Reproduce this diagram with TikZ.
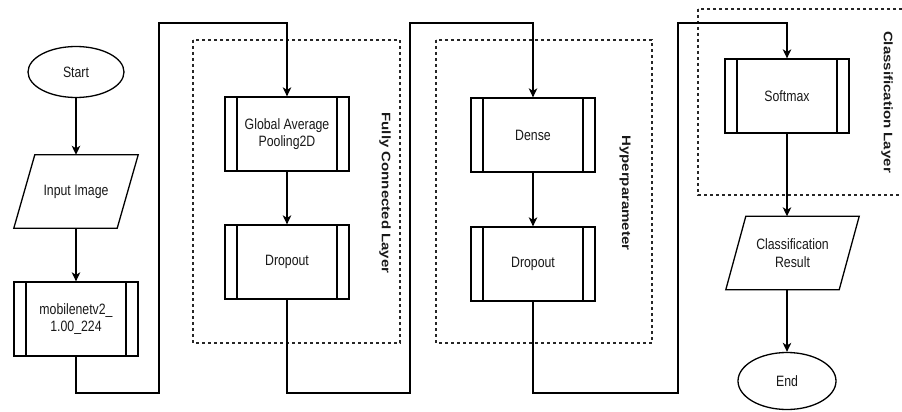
\documentclass[tikz,border=0pt]{standalone}
\usepackage{fontspec}
\setmainfont{Liberation Sans}
\newfontfamily\narrowsf[FakeStretch=0.82]{Liberation Sans}
\usetikzlibrary{shapes.geometric,arrows.meta}

\tikzset{
  every node/.style={font=\narrowsf\fontsize{15}{17.6}\selectfont, text=black!90, align=center},
  line/.style={line width=1.3pt, draw=black},
  arr/.style={line, -{Stealth[length=9pt,width=8.5pt,inset=2.5pt]}},
  terminal/.style={ellipse, line, minimum width=96pt, minimum height=51pt, inner sep=0pt},
  % slanted input/output box: the node is the middle band, the outline is drawn separately
  iobox/.style={rectangle, minimum height=73pt, inner sep=0pt},
  procbox/.style={rectangle, line, minimum width=124pt, minimum height=74pt, inner sep=0pt,
    path picture={
      \draw[line width=1.3pt] ([xshift=12pt]path picture bounding box.north west) -- ([xshift=12pt]path picture bounding box.south west);
      \draw[line width=1.3pt] ([xshift=-12pt]path picture bounding box.north east) -- ([xshift=-12pt]path picture bounding box.south east);
    }},
  group/.style={draw=black!85, line width=1.1pt, dash pattern=on 3pt off 3pt},
  grouplabel/.style={font=\fontsize{15}{17}\selectfont\bfseries, rotate=-90}
}

\begin{document}
\begin{tikzpicture}[x=1pt, y=-1pt]
  \useasboundingbox (0,0) rectangle (902,412);
  \fill[white] (0,0) rectangle (902,412);

  % layer groups
  \draw[group] (193,40) rectangle (400,343);
  \draw[group] (436,40) rectangle (652,343);
  \draw[group] (698,9) rectangle (908,195);
  \node[grouplabel] (lfc) at (385,193) {\scalebox{1}[0.82]{Fully Connected Layer}};
  \node[grouplabel] (lhp) at (625,193) {\scalebox{1}[0.82]{Hyperparameter}};
  \node[grouplabel] (lcl) at (887,102) {\scalebox{1}[0.82]{Classification Layer}};

  % first column
  \node[terminal] (start) at (76,72) {Start};
  \node[iobox, minimum width=103pt] (input) at (76,191.5) {Input Image};
  \draw[line] ([xshift=10.5pt]input.north west) -- ([xshift=10.5pt]input.north east)
    -- ([xshift=-10.5pt]input.south east) -- ([xshift=-10.5pt]input.south west) -- cycle;
  \node[procbox] (mnet) at (76,319) {mobilenetv2\_\\1.00\_224};

  % fully connected layer
  \node[procbox] (gap) at (287,134) {Global Average\\Pooling2D};
  \node[procbox] (drop1) at (287,262) {Dropout};

  % hyperparameter
  \node[procbox] (dense) at (533,135) {Dense};
  \node[procbox] (drop2) at (533,264) {Dropout};

  % classification
  \node[procbox] (soft) at (787,96) {Softmax};
  \node[iobox, minimum width=113pt] (res) at (792.5,253) {Classification\\Result};
  \draw[line] ([xshift=10pt]res.north west) -- ([xshift=10pt]res.north east)
    -- ([xshift=-10pt]res.south east) -- ([xshift=-10pt]res.south west) -- cycle;
  \node[terminal, minimum width=98pt, minimum height=57pt] (end) at (787,381) {End};

  % connectors between the stages run along the bottom (y=393) and top (y=23)
  \coordinate (c1) at (159,393);
  \coordinate (c2) at (410,393);
  \coordinate (c3) at (678,393);

  \draw[arr] (start) -- (input);
  \draw[arr] (input) -- (mnet);
  \draw[arr] (mnet.south) -- (mnet.south |- c1) -- (c1) -- (159,23) -- (gap.north |- 0,23) -- (gap.north);
  \draw[arr] (gap) -- (drop1);
  \draw[arr] (drop1.south) -- (drop1.south |- c2) -- (c2) -- (410,23) -- (dense.north |- 0,23) -- (dense.north);
  \draw[arr] (dense) -- (drop2);
  \draw[arr] (drop2.south) -- (drop2.south |- c3) -- (c3) -- (678,23) -- (soft.north |- 0,23) -- (soft.north);
  \draw[arr] (soft.south) -- (soft.south |- res.north);
  \draw[arr] (soft.south |- res.south) -- (end.north);
\end{tikzpicture}
\end{document}
